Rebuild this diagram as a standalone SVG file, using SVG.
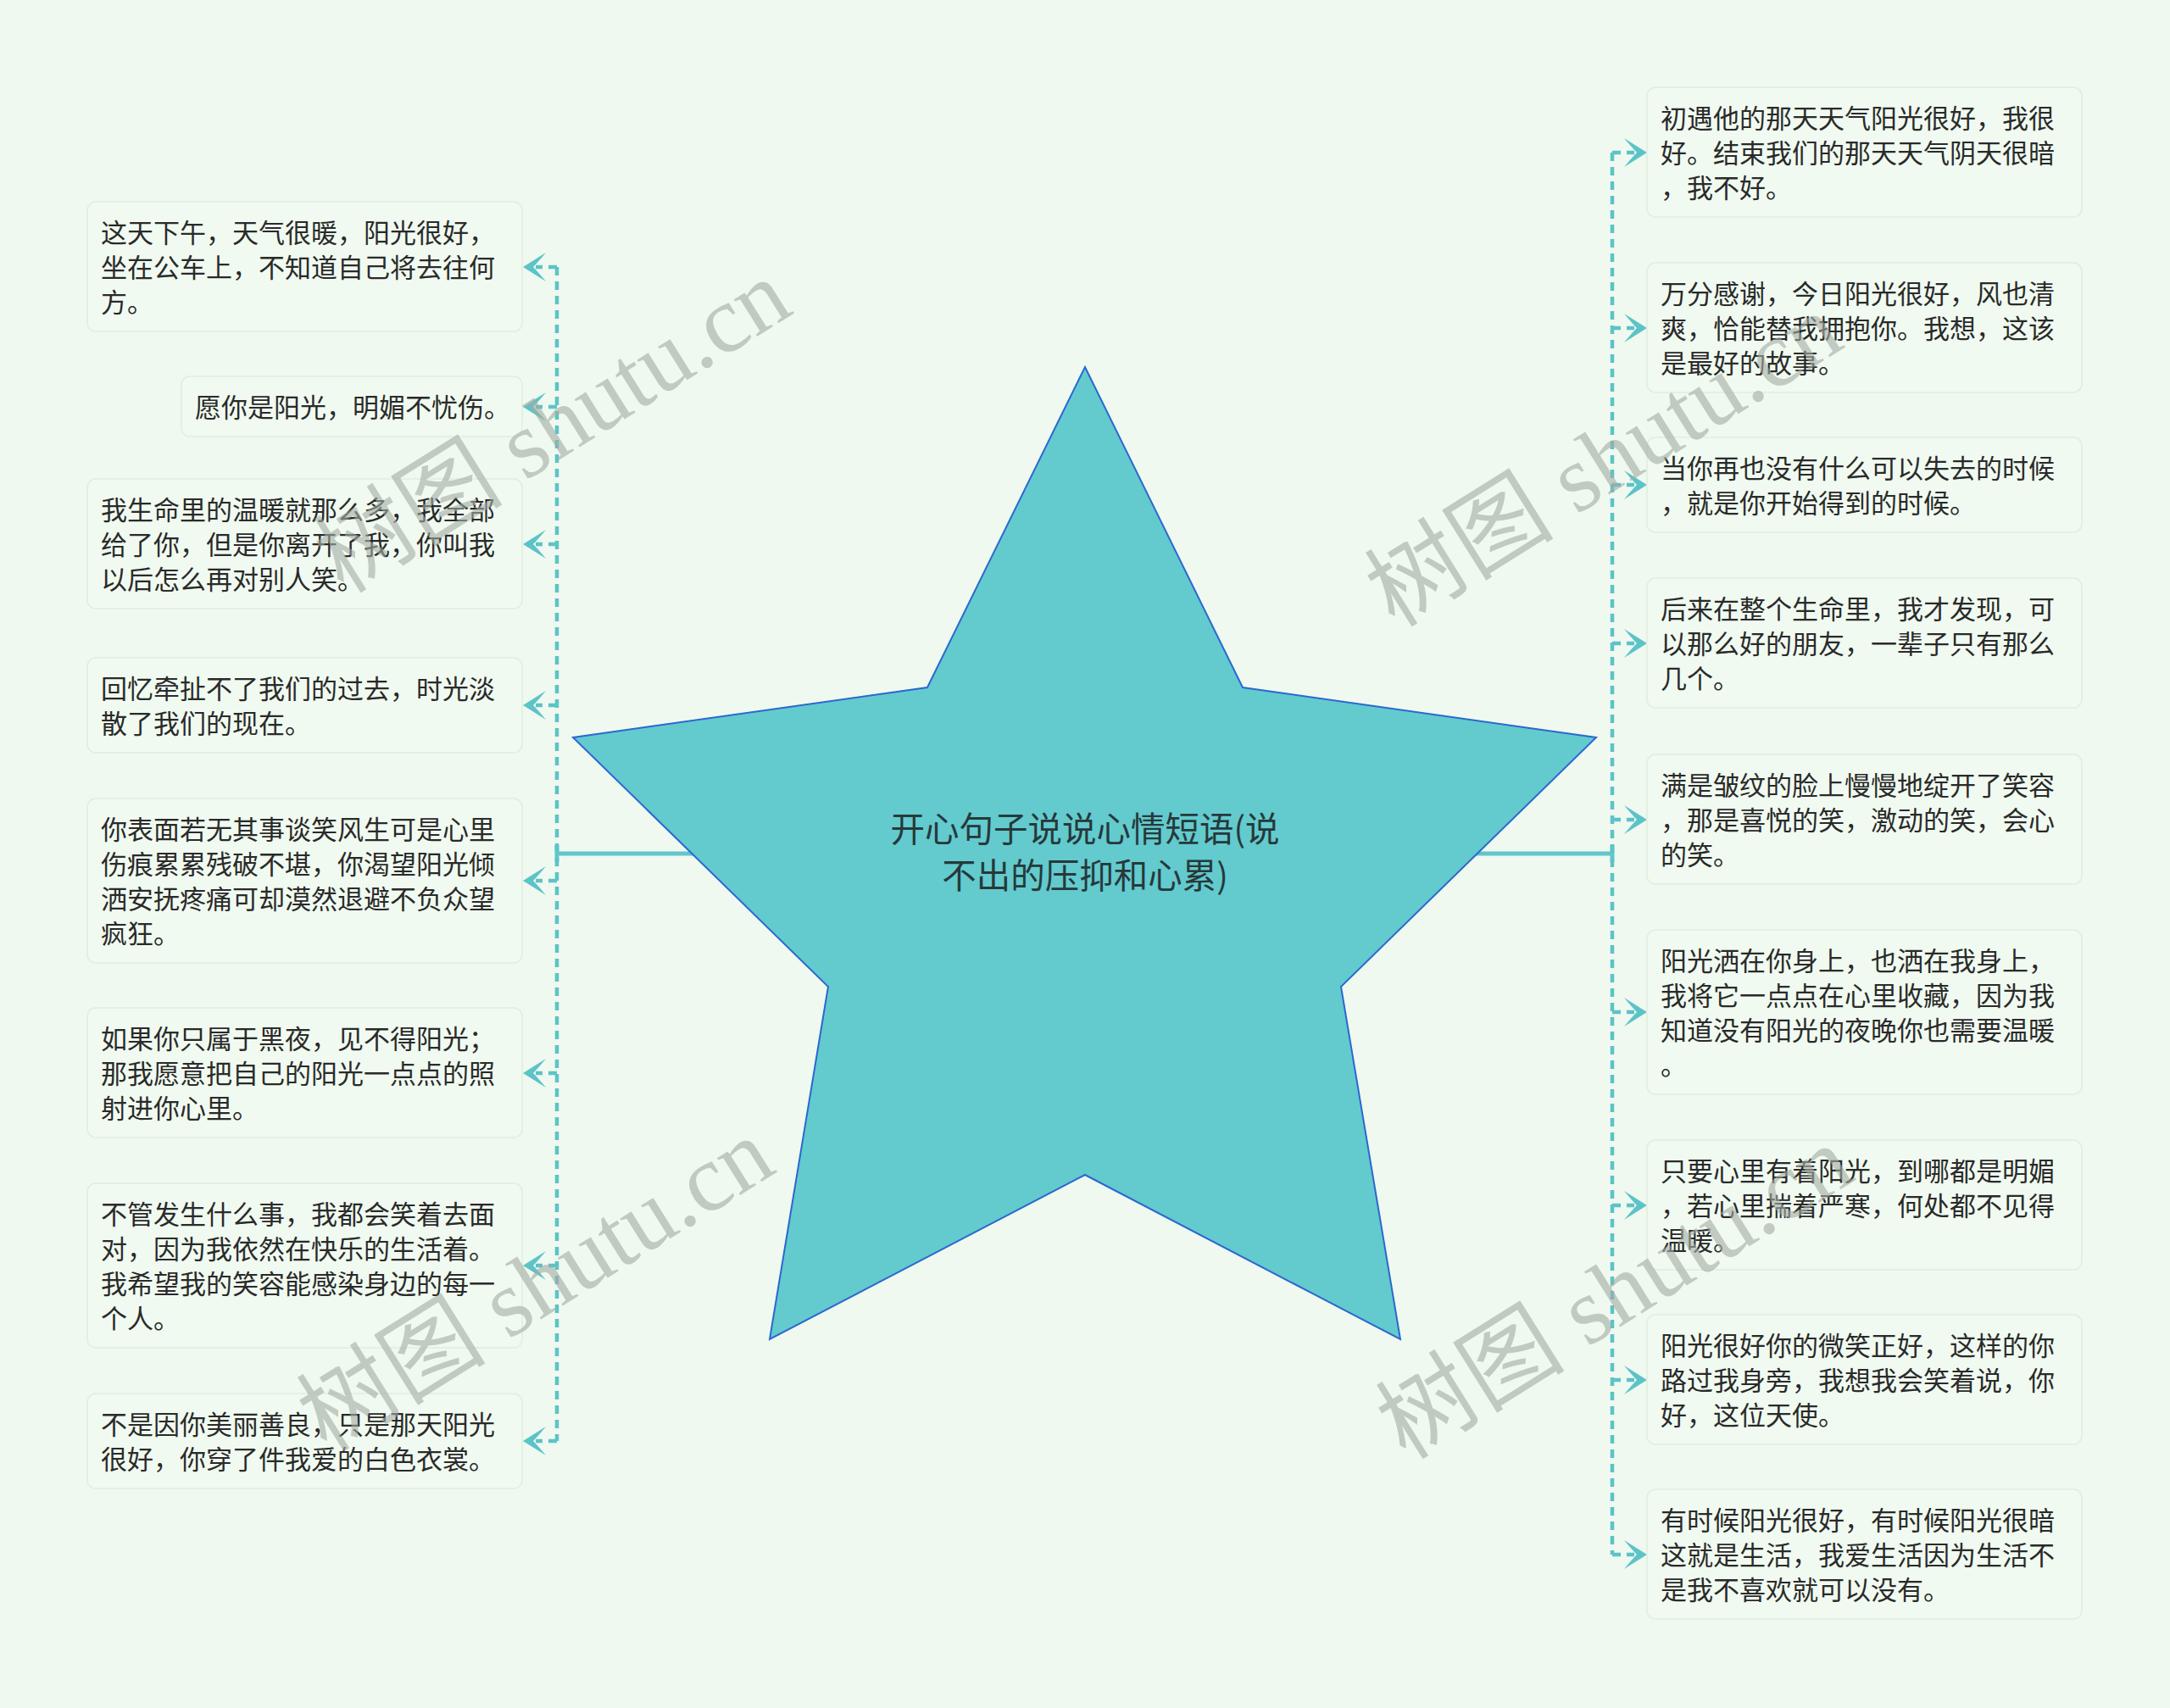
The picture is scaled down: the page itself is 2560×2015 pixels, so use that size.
<svg xmlns="http://www.w3.org/2000/svg" xmlns:xlink="http://www.w3.org/1999/xlink" width="2560" height="2015" viewBox="0 0 2560 2015">
<style>
.bg{fill:#EFF9EF}
.box{fill:#F0FAF0;stroke:#E1EDE1;stroke-width:1.5}
.t{font-family:"Noto Sans CJK SC","Noto Sans",sans-serif;font-size:31px;fill:#2a2a2a}
.ct{font-family:"Noto Sans CJK SC","Noto Sans",sans-serif;font-size:40.5px;fill:#26393a;text-anchor:middle}
.dash{fill:none;stroke:#5CC3C8;stroke-width:4.5;stroke-dasharray:10 7}
.solid{fill:none;stroke:#62C6CB;stroke-width:5}
.ah{fill:#5CC3C8}
.wm{font-family:"Liberation Serif","Noto Sans CJK SC",serif;font-size:112px;fill:#A4ACA4;opacity:0.6;text-anchor:middle}
</style>
<defs>
<path id="ahR" d="M0,0 L-27,-17 Q-17,-5 -12,0 Q-17,5 -27,17 Z"/>
</defs>
<rect class="bg" x="0" y="0" width="2560" height="2015"/>

<g id="connectors">
<line class="solid" x1="657" y1="1007" x2="1902" y2="1007"/>
<line class="solid" x1="657" y1="997" x2="657" y2="1017"/>
<line class="solid" x1="1902" y1="997" x2="1902" y2="1017"/>
<line class="dash" x1="657" y1="315" x2="657" y2="1700"/>
<line class="dash" x1="1902" y1="180" x2="1902" y2="1834"/>
<g class="dash">
<path d="M657,315 H632"/><path d="M657,480 H632"/><path d="M657,642 H632"/><path d="M657,832 H632"/>
<path d="M657,1039 H632"/><path d="M657,1266 H632"/><path d="M657,1493 H632"/><path d="M657,1700 H632"/>
<path d="M1902,180 H1928"/><path d="M1902,387 H1928"/><path d="M1902,572 H1928"/><path d="M1902,759 H1928"/>
<path d="M1902,967 H1928"/><path d="M1902,1194 H1928"/><path d="M1902,1422 H1928"/><path d="M1902,1628 H1928"/>
<path d="M1902,1834 H1928"/>
</g>
<g class="ah">
<use xlink:href="#ahR" transform="translate(617,315) rotate(180)"/>
<use xlink:href="#ahR" transform="translate(617,480) rotate(180)"/>
<use xlink:href="#ahR" transform="translate(617,642) rotate(180)"/>
<use xlink:href="#ahR" transform="translate(617,832) rotate(180)"/>
<use xlink:href="#ahR" transform="translate(617,1039) rotate(180)"/>
<use xlink:href="#ahR" transform="translate(617,1266) rotate(180)"/>
<use xlink:href="#ahR" transform="translate(617,1493) rotate(180)"/>
<use xlink:href="#ahR" transform="translate(617,1700) rotate(180)"/>
<use xlink:href="#ahR" transform="translate(1943,180)"/>
<use xlink:href="#ahR" transform="translate(1943,387)"/>
<use xlink:href="#ahR" transform="translate(1943,572)"/>
<use xlink:href="#ahR" transform="translate(1943,759)"/>
<use xlink:href="#ahR" transform="translate(1943,967)"/>
<use xlink:href="#ahR" transform="translate(1943,1194)"/>
<use xlink:href="#ahR" transform="translate(1943,1422)"/>
<use xlink:href="#ahR" transform="translate(1943,1628)"/>
<use xlink:href="#ahR" transform="translate(1943,1834)"/>
</g>
</g>

<g id="center">
<polygon points="1280,433 1466,811 1883,870 1582,1164 1652,1580 1280,1386 908,1580 977,1164 676,870 1094,811" fill="#63CACE" stroke="#2B68D0" stroke-width="2" stroke-linejoin="miter"/>
<text class="ct" x="1280" y="993">开心句子说说心情短语(说</text>
<text class="ct" x="1280" y="1048">不出的压抑和心累)</text>
</g>

<g id="L1"><rect class="box" x="103" y="238" width="513" height="153" rx="10"/>
<text class="t" x="119" y="286">这天下午，天气很暖，阳光很好，</text>
<text class="t" x="119" y="327">坐在公车上，不知道自己将去往何</text>
<text class="t" x="119" y="368">方。</text></g>
<g id="L2"><rect class="box" x="214" y="444" width="402" height="71" rx="10"/>
<text class="t" x="230" y="492">愿你是阳光，明媚不忧伤。</text></g>
<g id="L3"><rect class="box" x="103" y="565" width="513" height="153" rx="10"/>
<text class="t" x="119" y="613">我生命里的温暖就那么多，我全部</text>
<text class="t" x="119" y="654">给了你，但是你离开了我，你叫我</text>
<text class="t" x="119" y="695">以后怎么再对别人笑。</text></g>
<g id="L4"><rect class="box" x="103" y="776" width="513" height="112" rx="10"/>
<text class="t" x="119" y="824">回忆牵扯不了我们的过去，时光淡</text>
<text class="t" x="119" y="865">散了我们的现在。</text></g>
<g id="L5"><rect class="box" x="103" y="942" width="513" height="194" rx="10"/>
<text class="t" x="119" y="990">你表面若无其事谈笑风生可是心里</text>
<text class="t" x="119" y="1031">伤痕累累残破不堪，你渴望阳光倾</text>
<text class="t" x="119" y="1072">洒安抚疼痛可却漠然退避不负众望</text>
<text class="t" x="119" y="1113">疯狂。</text></g>
<g id="L6"><rect class="box" x="103" y="1189" width="513" height="153" rx="10"/>
<text class="t" x="119" y="1237">如果你只属于黑夜，见不得阳光；</text>
<text class="t" x="119" y="1278">那我愿意把自己的阳光一点点的照</text>
<text class="t" x="119" y="1319">射进你心里。</text></g>
<g id="L7"><rect class="box" x="103" y="1396" width="513" height="194" rx="10"/>
<text class="t" x="119" y="1444">不管发生什么事，我都会笑着去面</text>
<text class="t" x="119" y="1485">对，因为我依然在快乐的生活着。</text>
<text class="t" x="119" y="1526">我希望我的笑容能感染身边的每一</text>
<text class="t" x="119" y="1567">个人。</text></g>
<g id="L8"><rect class="box" x="103" y="1644" width="513" height="112" rx="10"/>
<text class="t" x="119" y="1692">不是因你美丽善良，只是那天阳光</text>
<text class="t" x="119" y="1733">很好，你穿了件我爱的白色衣裳。</text></g>

<g id="R1"><rect class="box" x="1943" y="103" width="513" height="153" rx="10"/>
<text class="t" x="1959" y="151">初遇他的那天天气阳光很好，我很</text>
<text class="t" x="1959" y="192">好。结束我们的那天天气阴天很暗</text>
<text class="t" x="1959" y="233">，我不好。</text></g>
<g id="R2"><rect class="box" x="1943" y="310" width="513" height="153" rx="10"/>
<text class="t" x="1959" y="358">万分感谢，今日阳光很好，风也清</text>
<text class="t" x="1959" y="399">爽，恰能替我拥抱你。我想，这该</text>
<text class="t" x="1959" y="440">是最好的故事。</text></g>
<g id="R3"><rect class="box" x="1943" y="516" width="513" height="112" rx="10"/>
<text class="t" x="1959" y="564">当你再也没有什么可以失去的时候</text>
<text class="t" x="1959" y="605">，就是你开始得到的时候。</text></g>
<g id="R4"><rect class="box" x="1943" y="682" width="513" height="153" rx="10"/>
<text class="t" x="1959" y="730">后来在整个生命里，我才发现，可</text>
<text class="t" x="1959" y="771">以那么好的朋友，一辈子只有那么</text>
<text class="t" x="1959" y="812">几个。</text></g>
<g id="R5"><rect class="box" x="1943" y="890" width="513" height="153" rx="10"/>
<text class="t" x="1959" y="938">满是皱纹的脸上慢慢地绽开了笑容</text>
<text class="t" x="1959" y="979">，那是喜悦的笑，激动的笑，会心</text>
<text class="t" x="1959" y="1020">的笑。</text></g>
<g id="R6"><rect class="box" x="1943" y="1097" width="513" height="194" rx="10"/>
<text class="t" x="1959" y="1145">阳光洒在你身上，也洒在我身上，</text>
<text class="t" x="1959" y="1186">我将它一点点在心里收藏，因为我</text>
<text class="t" x="1959" y="1227">知道没有阳光的夜晚你也需要温暖</text>
<text class="t" x="1959" y="1268">。</text></g>
<g id="R7"><rect class="box" x="1943" y="1345" width="513" height="153" rx="10"/>
<text class="t" x="1959" y="1393">只要心里有着阳光，到哪都是明媚</text>
<text class="t" x="1959" y="1434">，若心里揣着严寒，何处都不见得</text>
<text class="t" x="1959" y="1475">温暖。</text></g>
<g id="R8"><rect class="box" x="1943" y="1551" width="513" height="153" rx="10"/>
<text class="t" x="1959" y="1599">阳光很好你的微笑正好，这样的你</text>
<text class="t" x="1959" y="1640">路过我身旁，我想我会笑着说，你</text>
<text class="t" x="1959" y="1681">好，这位天使。</text></g>
<g id="R9"><rect class="box" x="1943" y="1757" width="513" height="153" rx="10"/>
<text class="t" x="1959" y="1805">有时候阳光很好，有时候阳光很暗</text>
<text class="t" x="1959" y="1846">这就是生活，我爱生活因为生活不</text>
<text class="t" x="1959" y="1887">是我不喜欢就可以没有。</text></g>

<g id="watermarks">
<text class="wm" transform="translate(672,535) rotate(-32)">树图 shutu.cn</text>
<text class="wm" transform="translate(1912,575) rotate(-32)">树图 shutu.cn</text>
<text class="wm" transform="translate(652,1548) rotate(-32)">树图 shutu.cn</text>
<text class="wm" transform="translate(1925,1557) rotate(-32)">树图 shutu.cn</text>
</g>
</svg>
